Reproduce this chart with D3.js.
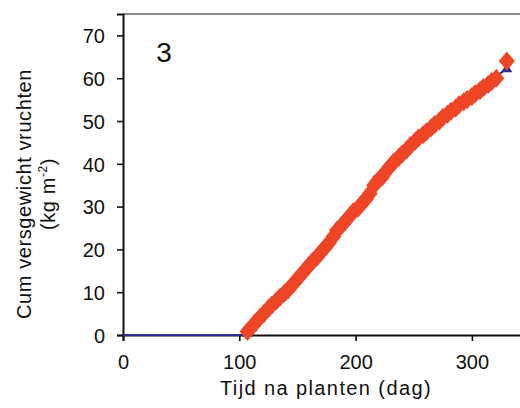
<!DOCTYPE html>
<html>
<head>
<meta charset="utf-8">
<script src="https://cdn.jsdelivr.net/npm/d3@7"></script>
<style>
  body { margin: 0; background: #fff; }
  svg { display: block; font-family: "Liberation Sans", Arial, sans-serif; }
</style>
</head>
<body>
<div class="chart"></div>
<script>
// Data.
const days = [107,111,114,118,121,125,128,132,135,139,142,146,149,153,156,160,163,167,170,174,177,181,184,188,191,195,198,202,205,209,212,216,219,223,226,230,233,237,240,244,247,251,254,258,261,265,268,272,275,279,282,286,289,293,296,300,303,307,310,314,317,321,330];
const measured = [0.8,2.0,3.0,4.2,5.0,6.2,7.0,8.0,8.8,9.8,10.6,11.8,12.8,14.0,15.0,16.3,17.2,18.3,19.3,20.5,21.5,23.0,24.5,25.6,26.5,27.8,28.8,29.6,30.6,31.8,33.0,35.0,36.0,37.0,38.2,39.5,40.5,41.5,42.3,43.3,44.2,45.2,46.0,46.8,47.5,48.4,49.2,50.0,50.8,51.6,52.3,53.0,53.8,54.5,55.0,55.7,56.4,57.1,57.8,58.5,59.2,60.0,64.0];
const simulated = [0.6,1.8,2.9,4.0,5.0,6.2,7.2,8.3,9.2,10.0,10.8,11.9,13.0,14.2,15.3,16.5,17.5,18.6,19.8,21.2,22.3,23.8,25.3,26.4,27.0,28.3,29.2,30.2,31.4,32.6,34.0,36.2,36.8,37.6,38.9,40.1,41.0,42.0,42.8,43.8,44.6,45.5,46.4,47.3,48.0,48.9,49.6,50.4,51.3,52.0,52.6,53.4,54.0,54.8,55.3,56.0,56.7,57.4,58.2,58.9,59.6,60.4,62.3];
const leadDays = [0, 50, 104];     // blue line before first harvest
const leadValues = [0, 0, 0];
const xTicks = [0, 100, 200, 300];
const yTicks = [0, 10, 20, 30, 40, 50, 60, 70];
const panelLabel = '3';

const width = 520, height = 408;
const mLeft = 123, mTop = 14, mBottom = 335;

const svg = d3.select('.chart')
  .append('svg')
    .attr('width', width)
    .attr('height', height);

const x = d3.scaleLinear().domain([0, 350]).range([mLeft, mLeft + 350 * 1.163]);
const y = d3.scaleLinear().domain([0, 75]).range([mBottom, mTop]);

// Top frame line (gray).
svg.append('line')
  .attr('x1', x(0)).attr('x2', width)
  .attr('y1', y(75)).attr('y2', y(75))
  .attr('stroke', '#8a8a8a').attr('stroke-width', 1.8);

// Axes.
const xAxis = svg.append('g')
  .attr('transform', `translate(0, ${mBottom})`)
  .call(d3.axisBottom(x).tickValues(xTicks).tickSize(6).tickPadding(14));
const yAxis = svg.append('g')
  .attr('transform', `translate(${mLeft}, 0)`)
  .call(d3.axisLeft(y).tickValues(yTicks).tickSize(6).tickPadding(12));

[xAxis, yAxis].forEach(g => {
  g.select('.domain').attr('stroke', '#111').attr('stroke-width', 2);
  g.selectAll('.tick line').attr('stroke', '#111').attr('stroke-width', 1.6);
  g.selectAll('.tick text').attr('fill', '#111').attr('font-size', 20)
    .attr('font-family', '"Liberation Sans", Arial, sans-serif');
});
yAxis.selectAll('.tick text').attr('dy', '0.36em');

// Simulated series: blue line + triangles.
const blue = '#2b2f8f', red = '#ee4526';
const simPts = leadDays.map((d, i) => [d, leadValues[i]])
  .concat(days.map((d, i) => [d, simulated[i]]));

svg.append('path')
  .datum(simPts)
  .attr('fill', 'none')
  .attr('stroke', blue)
  .attr('stroke-width', 2)
  .attr('d', d3.line().x(d => x(d[0])).y(d => y(d[1])));

const tri = 'M0,-5.5L5.5,4L-5.5,4Z';
svg.append('g').selectAll('path')
  .data(days.map((d, i) => [d, simulated[i]]))
  .join('path')
    .attr('d', tri)
    .attr('fill', blue)
    .attr('transform', d => `translate(${x(d[0])}, ${y(d[1])})`);

// Measured series: red diamonds.
const diamond = 'M0,-9.5L8,0L0,9.5L-8,0Z';
svg.append('g').selectAll('path')
  .data(days.map((d, i) => [d, measured[i]]))
  .join('path')
    .attr('d', diamond)
    .attr('fill', red)
    .attr('transform', d => `translate(${x(d[0])}, ${y(d[1])})`);

// Panel label.
svg.append('text')
  .attr('x', 164).attr('y', 62)
  .attr('text-anchor', 'middle')
  .attr('font-size', 28)
  .attr('fill', '#111')
  .text(panelLabel);

// Axis titles.
svg.append('text')
  .attr('x', 326).attr('y', 395)
  .attr('text-anchor', 'middle')
  .attr('font-size', 20)
  .attr('letter-spacing', 1.4)
  .attr('fill', '#111')
  .text('Tijd na planten (dag)');

const yt = svg.append('text')
  .attr('transform', `translate(0, 194) rotate(-90)`)
  .attr('text-anchor', 'middle')
  .attr('font-size', 20)
  .attr('letter-spacing', 0.6)
  .attr('fill', '#111');
yt.append('tspan').attr('x', 0).attr('y', 31).text('Cum versgewicht vruchten');
const t2 = yt.append('tspan').attr('x', 0).attr('y', 55);
t2.append('tspan').text('(kg m');
t2.append('tspan').attr('font-size', 12).attr('dy', -8).text('-2');
t2.append('tspan').attr('dy', 8).text(')');
</script>
</body>
</html>
